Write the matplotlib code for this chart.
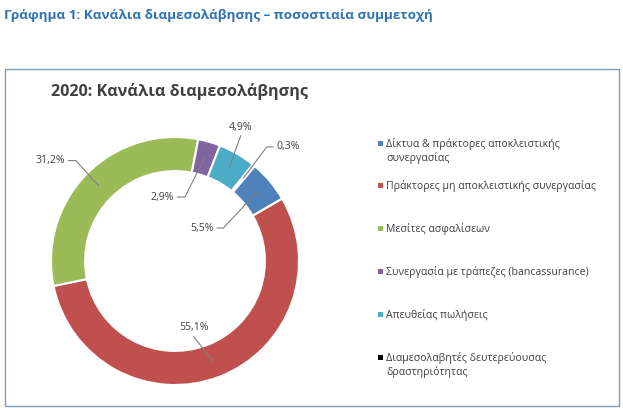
import matplotlib
matplotlib.use("Agg")
import matplotlib.pyplot as plt
from matplotlib.patches import Rectangle
import numpy as np

categories = [
    "Δίκτυα & πράκτορες αποκλειστικής\nσυνεργασίας",
    "Πράκτορες μη αποκλειστικής συνεργασίας",
    "Μεσίτες ασφαλίσεων",
    "Συνεργασία με τράπεζες (bancassurance)",
    "Απευθείας πωλήσεις",
    "Διαμεσολαβητές δευτερεύουσας\nδραστηριότητας",
]
values = [5.5, 55.1, 31.2, 2.9, 4.9, 0.3]
value_labels = ["5,5%", "55,1%", "31,2%", "2,9%", "4,9%", "0,3%"]
colors = ["#4F81BD", "#C0504D", "#9BBB59", "#8064A2", "#4BACC6", "#000000"]

heading = "Γράφημα 1: Κανάλια διαμεσολάβησης – ποσοστιαία συμμετοχή"
chart_title = "2020: Κανάλια διαμεσολάβησης"

plt.rcParams['font.family'] = ['Open Sans', 'DejaVu Sans']

W, H = 623, 408
fig = plt.figure(figsize=(W / 100, H / 100), dpi=100)
fig.patch.set_facecolor("white")

# outer frame
fig.patches.append(Rectangle((5 / W, 1 - 406 / H), (619 - 5) / W, (406 - 69) / H,
                             transform=fig.transFigure, fill=False,
                             edgecolor="#7F9DB9", lw=1.0))

fig.text(4 / W, 1 - 15 / H, heading, fontsize=9.7, fontweight="bold",
         color="#2E74B5", va="center", ha="left")
fig.text(51 / W, 1 - 92 / H, chart_title, fontsize=11.6, fontweight="bold",
         color="#404040", va="center", ha="left")

# donut
cx, cy, R = 175, 261, 124
lim = 1.25
size = 2 * lim * R
ax = fig.add_axes([(cx - size / 2) / W, (H - cy - size / 2) / H, size / W, size / H])
ax.set_xlim(-lim, lim)
ax.set_ylim(-lim, lim)
ax.set_aspect("equal")
ax.axis("off")

wedges, _ = ax.pie(values, colors=colors, startangle=50, counterclock=False,
                   radius=1.0, wedgeprops=dict(width=0.275, edgecolor="white", linewidth=1.5))

# label layout: (text x, text y, ha, elbow or None)
layout = [
    (0.31, 0.266, "right", 0.39),    # 5,5
    (0.15, -0.54, "center", None),   # 55,1
    (-0.89, 0.81, "right", -0.80),   # 31,2
    (-0.01, 0.516, "right", 0.08),   # 2,9
    (0.53, 1.08, "center", None),    # 4,9
    (0.82, 0.92, "left", 0.74),      # 0,3
]
cum = np.cumsum([0] + values[:-1])
total = sum(values)
for i, (v, lab) in enumerate(zip(values, value_labels)):
    mid = cum[i] + v / 2
    theta = np.deg2rad(50 - mid / total * 360)
    r = 0.87
    axp, ayp = r * np.cos(theta), r * np.sin(theta)
    tx, ty, ha, elbow = layout[i]
    ax.text(tx, ty, lab, fontsize=7.6, color="#404040", ha=ha, va="center")
    if elbow is not None:
        gap = 0.03 if ha == "right" else -0.03
        sx = tx + gap
        ax.plot([sx, elbow, axp], [ty, ty, ayp], color="#7F7F7F", lw=0.8)
    else:
        ax.plot([tx, axp], [ty - 0.07, ayp], color="#7F7F7F", lw=0.8)

# legend
lx, ly0, dy = 378, 143, 42.8
for i, (cat, col) in enumerate(zip(categories, colors)):
    y = ly0 + i * dy
    fig.patches.append(Rectangle((lx / W, 1 - (y + 2.5) / H), 5 / W, 5 / H,
                                 transform=fig.transFigure, color=col, lw=0))
    fig.text((lx + 8) / W, 1 - (y - 5.5) / H, cat, fontsize=7.6, color="#404040",
             ha="left", va="top", linespacing=1.25,
             transform=fig.transFigure)

fig.savefig("out.png", dpi=100, facecolor="white")
